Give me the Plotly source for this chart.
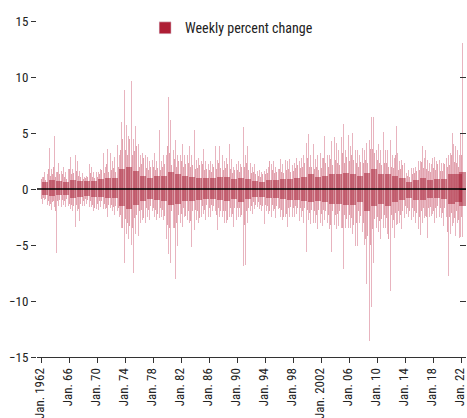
import plotly.graph_objects as go

# ---------------- data ----------------
# Quarterly extremes of the weekly percent change, 1962Q1 .. 2022Q1
hi_q = [
    1.1, 1.5, 1.0, 1.3,   3.7, 1.8, 2.0, 4.7,   1.5, 2.3, 2.0, 1.6,   2.0, 1.5, 1.2, 1.8,   # 1962-65
    2.9, 1.8, 2.0, 3.0,   2.5, 1.6, 1.5, 1.4,   1.1, 1.2, 1.5, 2.2,   2.0, 1.5, 1.3, 1.5,   # 1966-69
    1.5, 1.8, 2.5, 3.2,   2.0, 3.6, 2.2, 3.2,   2.5, 2.9, 2.2, 3.9,   3.0, 6.0, 9.4, 8.8,   # 1970-73
    5.7, 4.7, 9.0, 9.6,   4.5, 5.6, 7.4, 4.0,   3.0, 3.2, 5.0, 3.0,   2.9, 2.5, 3.3, 2.6,   # 1974-77
    3.2, 2.5, 2.8, 5.3,   2.5, 3.0, 3.3, 3.0,   8.2, 6.2, 3.2, 3.5,   4.4, 3.0, 4.0, 3.0,   # 1978-81
    4.0, 3.0, 3.5, 3.0,   3.8, 3.0, 3.2, 5.3,   2.6, 2.8, 3.2, 2.5,   3.6, 2.5, 2.6, 2.2,   # 1982-85
    2.5, 2.2, 3.0, 3.8,   2.6, 3.8, 2.8, 3.0,   2.5, 2.8, 3.6, 4.0,   2.7, 2.0, 2.5, 2.2,   # 1986-89
    2.5, 2.2, 3.0, 5.5,   3.0, 3.8, 2.5, 2.3,   2.0, 2.2, 1.8, 1.6,   1.7, 1.5, 1.8, 1.6,   # 1990-93
    1.8, 2.0, 4.5, 2.2,   2.5, 2.0, 2.2, 1.8,   2.7, 2.2, 2.0, 2.6,   2.5, 2.7, 2.2, 2.1,   # 1994-97
    2.3, 2.8, 3.3, 2.5,   2.8, 3.0, 3.6, 4.1,   4.9, 3.0, 3.0, 4.0,   2.7, 3.0, 2.5, 3.2,   # 1998-2001
    2.8, 4.7, 3.5, 3.0,   3.0, 4.3, 3.2, 4.6,   4.1, 3.5, 3.2, 4.6,   5.8, 3.5, 4.9, 4.8,   # 2002-05
    3.8, 5.0, 4.1, 3.5,   3.5, 3.0, 3.8, 3.7,   3.5, 4.1, 3.5, 4.4,   6.4, 6.4, 5.6, 3.5,   # 2006-09
    4.0, 3.5, 3.2, 5.1,   3.5, 3.5, 3.0, 4.4,   3.0, 2.8, 5.6, 3.2,   2.5, 2.6, 3.2, 2.3,   # 2010-13
    1.4, 1.7, 1.5, 1.9,   1.9, 2.0, 2.3, 2.5,   2.5, 3.8, 2.8, 3.5,   2.6, 2.3, 2.2, 2.8,   # 2014-17
    2.9, 2.5, 3.5, 2.6,   2.3, 2.3, 3.5, 2.8,   3.0, 3.2, 5.0, 4.0,   3.8, 3.5, 3.0, 5.0,   # 2018-21
    13.0,                                                                                 # 2022
]
lo_q = [
    -1.3, -1.0, -1.2, -1.4,   -1.5, -1.9, -1.8, -1.6,   -5.7, -1.5, -1.3, -1.6,   -1.4, -1.6, -1.3, -1.5,
    -1.8, -2.0, -2.2, -3.4,   -2.0, -2.9, -1.8, -1.5,   -1.5, -1.3, -1.4, -1.6,   -1.6, -2.0, -2.7, -1.8,
    -1.9, -1.6, -1.5, -1.8,   -1.8, -2.5, -2.0, -1.7,   -2.0, -2.3, -2.2, -2.0,   -2.5, -3.5, -6.3, -6.6,
    -4.0, -4.5, -5.5, -5.0,   -7.5, -4.0, -3.5, -4.2,   -3.0, -2.8, -4.3, -3.0,   -2.5, -2.8, -2.2, -2.0,
    -2.5, -2.8, -3.4, -2.6,   -2.5, -2.8, -3.8, -4.5,   -5.8, -6.6, -3.0, -3.5,   -8.0, -5.1, -3.5, -3.0,
    -3.4, -2.5, -3.7, -2.8,   -3.0, -5.2, -3.0, -3.7,   -2.8, -3.0, -4.4, -2.5,   -2.2, -2.8, -2.0, -2.5,
    -2.5, -2.0, -2.2, -2.0,   -3.7, -2.5, -3.0, -2.5,   -3.0, -3.0, -4.8, -2.5,   -2.5, -3.4, -2.5, -2.8,
    -2.5, -2.5, -3.5, -6.9,   -6.8, -3.0, -2.5, -2.0,   -2.2, -1.8, -2.0, -1.6,   -1.8, -2.0, -2.2, -3.1,
    -2.0, -2.2, -3.1, -2.5,   -2.0, -2.6, -2.2, -1.8,   -2.5, -2.8, -4.0, -2.5,   -3.4, -2.5, -2.3, -2.5,
    -2.5, -2.2, -2.5, -2.9,   -2.5, -3.0, -2.5, -5.6,   -2.8, -3.1, -2.8, -3.0,   -3.0, -3.6, -2.8, -3.0,
    -3.3, -2.8, -2.9, -3.0,   -3.6, -5.6, -3.0, -3.2,   -3.6, -3.3, -3.0, -3.5,   -7.1, -3.5, -4.2, -3.5,
    -3.5, -4.0, -5.7, -5.1,   -5.1, -3.0, -3.6, -3.8,   -5.0, -8.5, -7.5, -13.6,  -10.5, -6.6, -4.2, -3.5,
    -3.8, -4.5, -4.2, -3.5,   -3.5, -4.0, -9.0, -9.1,   -3.5, -4.4, -3.2, -3.1,   -3.0, -3.6, -3.0, -2.6,
    -2.2, -2.5, -3.0, -2.8,   -2.5, -3.0, -3.2, -3.6,   -4.1, -3.0, -2.6, -2.4,   -4.4, -2.5, -2.4, -2.2,
    -3.0, -2.6, -2.2, -2.5,   -2.6, -3.3, -2.5, -2.5,   -7.8, -4.0, -3.3, -3.0,   -4.2, -3.0, -4.4, -4.3,
    -4.3,
]
# Quarterly typical (medium-density) levels
mid_pos = [
    0.9, 1.1, 0.8, 1.0,   1.8, 1.2, 1.3, 2.0,   1.1, 1.5, 1.3, 1.1,   1.3, 1.1, 0.9, 1.2,
    1.8, 1.3, 1.4, 1.9,   1.6, 1.2, 1.1, 1.0,   0.9, 1.0, 1.1, 1.5,   1.4, 1.1, 1.0, 1.1,
    1.1, 1.3, 1.7, 2.0,   1.4, 2.2, 1.5, 2.0,   1.7, 1.9, 1.5, 2.3,   2.0, 3.5, 4.5, 4.2,
    3.5, 3.0, 4.5, 4.8,   3.0, 3.4, 3.8, 2.6,   2.0, 2.2, 2.8, 2.0,   1.9, 1.7, 2.0, 1.7,
    2.0, 1.7, 1.9, 2.8,   1.7, 2.0, 2.2, 2.0,   3.8, 3.2, 2.1, 2.3,   2.7, 2.0, 2.5, 2.0,
    2.5, 2.0, 2.2, 2.0,   2.3, 2.0, 2.1, 2.8,   1.8, 1.9, 2.1, 1.7,   2.2, 1.7, 1.8, 1.5,
    1.7, 1.5, 2.0, 2.3,   1.8, 2.3, 1.9, 2.0,   1.7, 1.9, 2.2, 2.4,   1.8, 1.4, 1.7, 1.5,
    1.7, 1.5, 2.0, 2.8,   2.0, 2.3, 1.7, 1.6,   1.4, 1.5, 1.3, 1.1,   1.2, 1.1, 1.3, 1.1,
    1.3, 1.4, 2.5, 1.5,   1.7, 1.4, 1.5, 1.3,   1.8, 1.5, 1.4, 1.7,   1.7, 1.8, 1.5, 1.4,
    1.6, 1.9, 2.1, 1.7,   1.9, 2.0, 2.3, 2.5,   2.8, 2.0, 2.0, 2.5,   1.8, 2.0, 1.7, 2.1,
    1.9, 2.8, 2.3, 2.0,   2.0, 2.7, 2.1, 2.8,   2.6, 2.3, 2.1, 2.8,   3.2, 2.3, 2.9, 2.8,
    2.5, 3.0, 2.6, 2.3,   2.3, 2.0, 2.4, 2.4,   2.3, 2.6, 2.3, 2.8,   3.6, 3.6, 3.2, 2.3,
    2.6, 2.3, 2.1, 3.0,   2.3, 2.3, 2.0, 2.7,   2.0, 1.9, 3.0, 2.1,   1.7, 1.8, 2.1, 1.6,
    1.0, 1.2, 1.1, 1.3,   1.3, 1.4, 1.6, 1.7,   1.7, 2.4, 1.9, 2.2,   1.8, 1.6, 1.5, 1.9,
    1.9, 1.7, 2.2, 1.8,   1.6, 1.6, 2.2, 1.9,   2.0, 2.1, 3.0, 2.5,   2.4, 2.3, 2.0, 2.8,
    3.0,
]
mid_neg = [
    -0.9, -0.8, -0.9, -1.0,   -1.1, -1.3, -1.2, -1.1,   -2.0, -1.1, -1.0, -1.1,   -1.0, -1.1, -0.9, -1.0,
    -1.3, -1.4, -1.5, -2.0,   -1.4, -1.8, -1.3, -1.1,   -1.1, -0.9, -1.0, -1.1,   -1.1, -1.4, -1.7, -1.3,
    -1.3, -1.1, -1.1, -1.3,   -1.3, -1.7, -1.4, -1.2,   -1.4, -1.6, -1.5, -1.4,   -1.7, -2.3, -3.5, -3.8,
    -2.7, -3.0, -3.3, -3.1,   -3.5, -2.6, -2.3, -2.6,   -2.0, -1.9, -2.6, -2.0,   -1.7, -1.9, -1.5, -1.4,
    -1.7, -1.9, -2.2, -1.8,   -1.7, -1.9, -2.4, -2.7,   -3.2, -3.5, -2.0, -2.3,   -3.5, -3.0, -2.3, -2.0,
    -2.2, -1.7, -2.4, -1.9,   -2.0, -2.9, -2.0, -2.3,   -1.9, -2.0, -2.6, -1.7,   -1.5, -1.9, -1.4, -1.7,
    -1.7, -1.4, -1.5, -1.4,   -2.3, -1.7, -2.0, -1.7,   -2.0, -2.0, -2.8, -1.7,   -1.7, -2.2, -1.7, -1.9,
    -1.7, -1.7, -2.3, -3.5,   -3.2, -2.0, -1.7, -1.4,   -1.5, -1.2, -1.4, -1.1,   -1.2, -1.4, -1.5, -2.0,
    -1.4, -1.5, -2.0, -1.7,   -1.4, -1.8, -1.5, -1.2,   -1.7, -1.9, -2.5, -1.7,   -2.2, -1.7, -1.6, -1.7,
    -1.7, -1.5, -1.7, -1.9,   -1.7, -2.0, -1.7, -3.0,   -1.9, -2.1, -1.9, -2.0,   -2.0, -2.3, -1.9, -2.0,
    -2.2, -1.9, -2.0, -2.0,   -2.3, -3.2, -2.0, -2.2,   -2.3, -2.2, -2.0, -2.3,   -3.5, -2.3, -2.7, -2.3,
    -2.3, -2.6, -3.2, -3.0,   -3.0, -2.0, -2.4, -2.5,   -3.0, -4.5, -4.2, -6.5,   -5.0, -3.6, -2.7, -2.3,
    -2.5, -2.9, -2.7, -2.3,   -2.3, -2.6, -4.5, -4.6,   -2.3, -2.8, -2.1, -2.0,   -2.0, -2.3, -2.0, -1.7,
    -1.5, -1.7, -2.0, -1.9,   -1.7, -2.0, -2.1, -2.3,   -2.5, -2.0, -1.7, -1.6,   -2.5, -1.7, -1.6, -1.5,
    -2.0, -1.7, -1.5, -1.7,   -1.7, -2.1, -1.7, -1.7,   -3.8, -2.5, -2.1, -2.0,   -2.6, -2.0, -2.8, -2.7,
    -2.5,
]

years = list(range(1962, 2023))
# Yearly extent of the dense dark core
core_pos = [0.6, 0.8, 0.7, 0.6, 0.8, 0.7, 0.7, 0.7, 0.9, 1.0, 1.0, 1.8, 2.0, 1.6, 1.2, 1.0,
            1.2, 1.2, 1.5, 1.3, 1.2, 1.1, 1.0, 1.0, 1.0, 1.1, 1.1, 0.9, 1.0, 0.9, 0.7, 0.6,
            0.8, 0.8, 0.9, 0.9, 1.0, 1.1, 1.3, 1.1, 1.2, 1.3, 1.3, 1.4, 1.3, 1.2, 1.4, 1.8,
            1.3, 1.3, 1.2, 1.0, 0.6, 0.8, 1.0, 0.8, 0.9, 0.9, 1.3, 1.3, 1.5]
core_neg = [-0.5, -0.6, -0.5, -0.5, -0.8, -0.7, -0.6, -0.7, -0.7, -0.8, -0.8, -1.5, -1.8, -1.4,
            -1.1, -0.9, -1.0, -1.1, -1.4, -1.3, -1.1, -1.1, -1.0, -0.9, -0.9, -1.0, -1.1, -0.9,
            -1.2, -0.9, -0.7, -0.7, -0.8, -0.8, -0.9, -1.0, -1.0, -1.1, -1.2, -1.1, -1.2, -1.3,
            -1.3, -1.4, -1.4, -1.2, -2.0, -1.5, -1.3, -1.5, -1.2, -1.0, -0.8, -1.0, -1.0, -0.8,
            -0.8, -0.9, -1.3, -1.2, -1.5]

tick_years = list(range(1962, 2023, 4))
tick_labels = ["Jan. 1962", "Jan. 66", "Jan. 70", "Jan. 74", "Jan. 78", "Jan. 82", "Jan. 86",
               "Jan. 90", "Jan. 94", "Jan. 98", "Jan. 2002", "Jan. 06", "Jan. 10", "Jan. 14",
               "Jan. 18", "Jan. 22"]
y_ticks = [-15, -10, -5, 0, 5, 10, 15]
y_tick_labels = ["\u221215", "\u221210", "\u22125", "0", "5", "10", "15"]
series_name = "Weekly percent change"

# ---------------- positions ----------------
q_dates, m_dates = [], []
for y in years:
    for m in (2, 5, 8, 11):
        if len(q_dates) < len(hi_q):
            q_dates.append(f"{y}-{m:02d}-15")
    for m in (1, 4, 7, 10):
        if len(m_dates) < len(mid_pos):
            m_dates.append(f"{y}-{m:02d}-01")
y_dates = [f"{y}-07-01" for y in years]
y_dates[-1] = "2022-02-01"

DAY = 86400000
FONT = "Liberation Sans Narrow, Arial Narrow, Roboto Condensed, Liberation Sans, sans-serif"

fig = go.Figure()
spike_col = "rgba(214,118,138,0.55)"
mid_col = "rgba(194,62,86,0.48)"
core_col = "rgba(160,20,42,0.5)"

for vals in (hi_q, lo_q):
    fig.add_trace(go.Bar(x=q_dates, y=vals, width=42 * DAY, marker=dict(color=spike_col, line=dict(width=0)),
                         showlegend=False, hoverinfo="skip"))
for vals in (mid_pos, mid_neg):
    fig.add_trace(go.Bar(x=m_dates, y=vals, width=45 * DAY, marker=dict(color=mid_col, line=dict(width=0)),
                         showlegend=False, hoverinfo="skip"))
for vals in (core_pos, core_neg):
    fig.add_trace(go.Bar(x=y_dates, y=vals, width=340 * DAY, marker=dict(color=core_col, line=dict(width=0)),
                         showlegend=False, hoverinfo="skip"))
# legend entry
fig.add_trace(go.Bar(x=[None], y=[None], name=series_name, marker=dict(color="#ae1e35"),
                     showlegend=True, yaxis="y2"))

fig.add_hline(y=0, line=dict(color="black", width=1.5), layer="above")

fig.update_layout(
    width=467, height=418,
    margin=dict(l=37, r=1, t=21, b=61, autoexpand=False),
    barmode="overlay", bargap=0,
    plot_bgcolor="white", paper_bgcolor="white",
    font=dict(family=FONT, size=13, color="#222"),
    showlegend=True,
    legend=dict(x=0.252, y=1.026, xanchor="left", yanchor="top", orientation="h",
                font=dict(family=FONT, size=14, color="#222"), bgcolor="rgba(0,0,0,0)",
                itemwidth=30),
    xaxis=dict(type="date", range=["1961-05-01", "2022-08-10"], automargin=False,
               tickvals=[f"{y}-01-01" for y in tick_years], ticktext=tick_labels,
               tickangle=-90, ticks="outside", ticklen=5, tickcolor="#333",
               ticklabeloverflow="allow", ticklabelshift=-2,
               showline=True, linecolor="#333", linewidth=1, showgrid=False, zeroline=False,
               tickfont=dict(family=FONT, size=13, color="#222")),
    yaxis=dict(range=[-15, 15], automargin=False, tickvals=y_ticks, ticktext=y_tick_labels,
               ticks="outside", ticklen=5, tickcolor="#333", showline=False, showgrid=False,
               zeroline=False, ticklabeloverflow="allow",
               tickfont=dict(family=FONT, size=13, color="#222")),
    yaxis2=dict(range=[-15, 15], overlaying="y", side="right", tickvals=y_ticks, ticks="inside",
                ticklen=6, tickcolor="#333", showticklabels=False, showline=False, showgrid=False,
                zeroline=False, automargin=False),
)

# remove the page's default 8 px body margin so the figure fills the window exactly
fig.write_html("out.html", config={"displayModeBar": False},
               post_script="document.body.style.margin='0';document.body.style.overflow='hidden';")
